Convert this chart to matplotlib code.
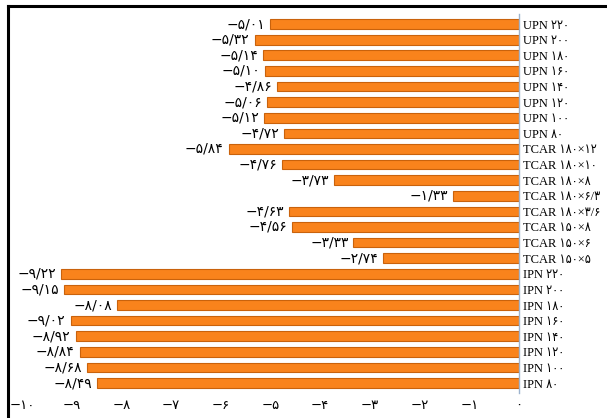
import matplotlib.pyplot as plt
from matplotlib.lines import Line2D
from matplotlib import font_manager

# categories, top to bottom as in the picture
categories = [
    "UPN 220", "UPN 200", "UPN 180", "UPN 160", "UPN 140", "UPN 120", "UPN 100", "UPN 80",
    "TCAR 180×12", "TCAR 180×10", "TCAR 180×8", "TCAR 180×6/3", "TCAR 180×3/6",
    "TCAR 150×8", "TCAR 150×6", "TCAR 150×5",
    "IPN 220", "IPN 200", "IPN 180", "IPN 160", "IPN 140", "IPN 120", "IPN 100", "IPN 80",
]
values = [
    -5.01, -5.32, -5.14, -5.10, -4.86, -5.06, -5.12, -4.72,
    -5.84, -4.76, -3.73, -1.33, -4.63, -4.56, -3.33, -2.74,
    -9.22, -9.15, -8.08, -9.02, -8.92, -8.84, -8.68, -8.49,
]
xticks = [-10, -9, -8, -7, -6, -5, -4, -3, -2, -1, 0]

FA = str.maketrans("0123456789", "۰۱۲۳۴۵۶۷۸۹")


def fa_num(v, fmt="{:.2f}"):
    s = fmt.format(v).replace(".", "/").replace("-", "−")
    return s.translate(FA)


# use the condensed DejaVu if the system has it (narrower persian digits)
names = {f.name for f in font_manager.fontManager.ttflist}
cond = [f for f in font_manager.fontManager.ttflist
        if f.name == "DejaVu Sans" and "ondensed" in str(f.stretch) + f.fname]
digit_family = "DejaVu Sans"
digit_stretch = "condensed" if cond else "normal"

bar_color = "#F9831C"
edge_color = "#C9620C"

fig = plt.figure(figsize=(6.07, 4.18), dpi=100)
ax = fig.add_axes([0.036, 0.065, 0.819, 0.896])

ypos = list(range(len(categories)))
ax.barh(ypos, values, height=0.62, color=bar_color, edgecolor=edge_color, linewidth=0.8)
ax.set_ylim(len(categories) - 0.5, -0.5)
ax.set_xlim(-10, 0)

for y, v in zip(ypos, values):
    ax.text(v - 0.1, y, fa_num(v), ha="right", va="center", fontsize=10,
            family="DejaVu Sans", color="black")

ax.axvline(0, color="#9DB3CE", linewidth=1.0, ymin=-0.005, ymax=1.005, clip_on=False)

for s in ax.spines.values():
    s.set_visible(False)

ax.set_xticks(xticks)
ax.set_xticklabels([fa_num(t, "{:d}") for t in xticks], fontsize=9.5, family="DejaVu Sans")
ax.tick_params(axis="x", length=0, pad=6)

ax.yaxis.tick_right()
ax.set_yticks(ypos)
ax.set_yticklabels([c.translate(FA) for c in categories], fontsize=9,
                   family=["Liberation Serif", digit_family], fontstretch=digit_stretch)
ax.tick_params(axis="y", length=0, pad=3)

# outer frame lines, top and left only
fig.add_artist(Line2D([0.013, 1.0], [0.985, 0.985], color="black", linewidth=2.2))
fig.add_artist(Line2D([0.013, 0.013], [0.0, 0.985], color="black", linewidth=2.2))

fig.savefig("out.png", dpi=100)
